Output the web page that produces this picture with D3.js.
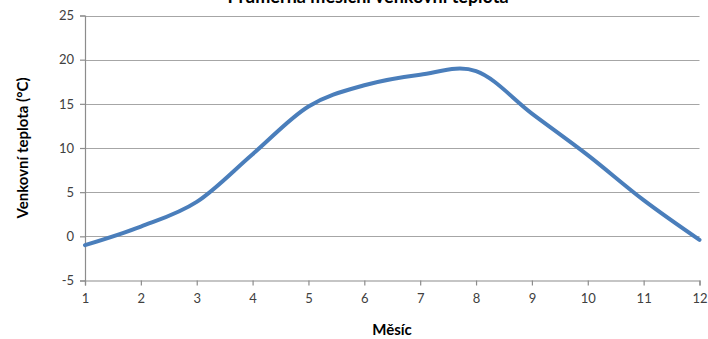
<!DOCTYPE html>
<html>
<head>
<meta charset="utf-8">
<script src="https://cdn.jsdelivr.net/npm/d3@7"></script>
<style>
  html, body { margin: 0; padding: 0; background: #fff; }
  svg { display: block; font-family: Lato, "Open Sans", sans-serif; }
</style>
</head>
<body>
<svg id="chart" width="708" height="339"></svg>
<script>
// Monthly mean outdoor temperature
const months = [1, 2, 3, 4, 5, 6, 7, 8, 9, 10, 11, 12];
const temps = [-1.0, 1.1, 3.9, 9.3, 14.7, 17.1, 18.3, 18.7, 13.9, 9.2, 4.1, -0.4];
const yTicks = [-5, 0, 5, 10, 15, 20, 25];
const xTicks = months;

const title = "Průměrná měsíční venkovní teplota";
const xTitle = "Měsíc";
const yTitle = "Venkovní teplota (°C)";

const svg = d3.select("#chart");
const plot = { left: 85, right: 699.5, top: 15.5, bottom: 280.5 };

const x = d3.scaleLinear().domain([1, 12]).range([plot.left, plot.right]);
const y = d3.scaleLinear().domain([-5, 25]).range([plot.bottom, plot.top]);

// horizontal gridlines
svg.append("g")
  .selectAll("line")
  .data(yTicks.filter(d => d !== -5))
  .join("line")
  .attr("x1", plot.left).attr("x2", plot.right)
  .attr("y1", d => Math.round(y(d)) + 0.5).attr("y2", d => Math.round(y(d)) + 0.5)
  .attr("stroke", "#a6a6a6").attr("stroke-width", 1.2);

// y axis
const yAxis = svg.append("g")
  .attr("transform", `translate(${plot.left},0)`)
  .call(d3.axisLeft(y).tickValues(yTicks).tickSize(5).tickPadding(6).tickFormat(d => String(d)));
// x axis
const xAxis = svg.append("g")
  .attr("transform", `translate(0,${plot.bottom})`)
  .call(d3.axisBottom(x).tickValues(xTicks).tickSize(5).tickPadding(8).tickFormat(d => String(d)));

[yAxis, xAxis].forEach(g => {
  g.select(".domain").attr("stroke", "#8c8c8c").attr("stroke-width", 1.2);
  g.selectAll(".tick line").attr("stroke", "#8c8c8c").attr("stroke-width", 1.2);
  g.selectAll(".tick text").attr("fill", "#404040").attr("font-size", 13)
    .attr("font-family", "Lato, 'Open Sans', sans-serif");
});

// temperature curve
const line = d3.line()
  .x((d, i) => x(months[i]))
  .y(d => y(d))
  .curve(d3.curveCatmullRom.alpha(0));

svg.append("path")
  .datum(temps)
  .attr("d", line)
  .attr("fill", "none")
  .attr("stroke", "#4a7ebb")
  .attr("stroke-width", 4)
  .attr("stroke-linecap", "round")
  .attr("stroke-linejoin", "round");

// titles
svg.append("text")
  .attr("x", 368).attr("y", 3)
  .attr("text-anchor", "middle")
  .attr("font-size", 18).attr("font-weight", "bold")
  .attr("fill", "#000")
  .text(title);

svg.append("text")
  .attr("x", 392).attr("y", 335)
  .attr("text-anchor", "middle")
  .attr("font-size", 15).attr("font-weight", "bold")
  .attr("fill", "#000")
  .text(xTitle);

svg.append("text")
  .attr("transform", "translate(28,148) rotate(-90)")
  .attr("text-anchor", "middle")
  .attr("font-size", 15).attr("font-weight", "bold")
  .attr("fill", "#000")
  .text(yTitle);
</script>
</body>
</html>
